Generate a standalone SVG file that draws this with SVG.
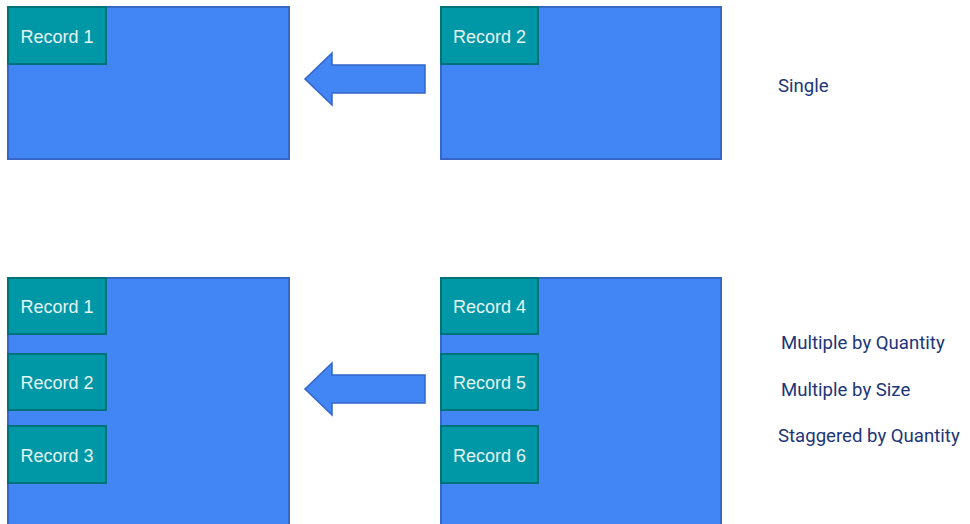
<svg xmlns="http://www.w3.org/2000/svg" width="970" height="524" viewBox="0 0 970 524">
<style>
.big{fill:#4285f4;stroke:#3566c8;stroke-width:2}
.rec{fill:#0097a7;stroke:#00737a;stroke-width:2}
.rt{font-family:"Liberation Sans",Arial,sans-serif;font-size:18px;fill:#e6f4f3;text-anchor:middle}
.lbl{font-family:Roboto,"Liberation Sans",sans-serif;font-size:18.6px;fill:#1c3679}
.arr{fill:#4285f4;stroke:#3566c8;stroke-width:1.5;stroke-linejoin:miter}
</style>
<rect width="970" height="524" fill="#ffffff"/>
<g id="top-left">
<rect class="big" x="8" y="7" width="281" height="152"/>
</g>
<g id="top-left-record1">
<rect class="rec" x="8" y="7" width="98" height="57"/>
<text class="rt" x="57" y="43">Record 1</text>
</g>
<g id="top-right">
<rect class="big" x="441" y="7" width="280" height="152"/>
</g>
<g id="top-right-record2">
<rect class="rec" x="441" y="7" width="97" height="57"/>
<text class="rt" x="489.5" y="43">Record 2</text>
</g>
<g id="bottom-left">
<rect class="big" x="8" y="278" width="281" height="250"/>
</g>
<g id="bl-record1">
<rect class="rec" x="8" y="278" width="98" height="56"/>
<text class="rt" x="57" y="313">Record 1</text>
</g>
<g id="bl-record2">
<rect class="rec" x="8" y="354" width="98" height="56"/>
<text class="rt" x="57" y="389">Record 2</text>
</g>
<g id="bl-record3">
<rect class="rec" x="8" y="426" width="98" height="57"/>
<text class="rt" x="57" y="462">Record 3</text>
</g>
<g id="bottom-right">
<rect class="big" x="441" y="278" width="280" height="250"/>
</g>
<g id="br-record4">
<rect class="rec" x="441" y="278" width="97" height="56"/>
<text class="rt" x="489.5" y="313">Record 4</text>
</g>
<g id="br-record5">
<rect class="rec" x="441" y="354" width="97" height="56"/>
<text class="rt" x="489.5" y="389">Record 5</text>
</g>
<g id="br-record6">
<rect class="rec" x="441" y="426" width="97" height="57"/>
<text class="rt" x="489.5" y="462">Record 6</text>
</g>
<g id="connectors">
<polygon class="arr" points="425,65 332,65 332,53 305,79 332,105 332,93 425,93"/>
<polygon class="arr" points="425,375 332,375 332,363 305,389 332,415 332,403 425,403"/>
</g>
<g id="labels">
<text class="lbl" x="778" y="92">Single</text>
<text class="lbl" x="781" y="349">Multiple by Quantity</text>
<text class="lbl" x="781" y="396">Multiple by Size</text>
<text class="lbl" x="778" y="442">Staggered by Quantity</text>
</g>
</svg>
